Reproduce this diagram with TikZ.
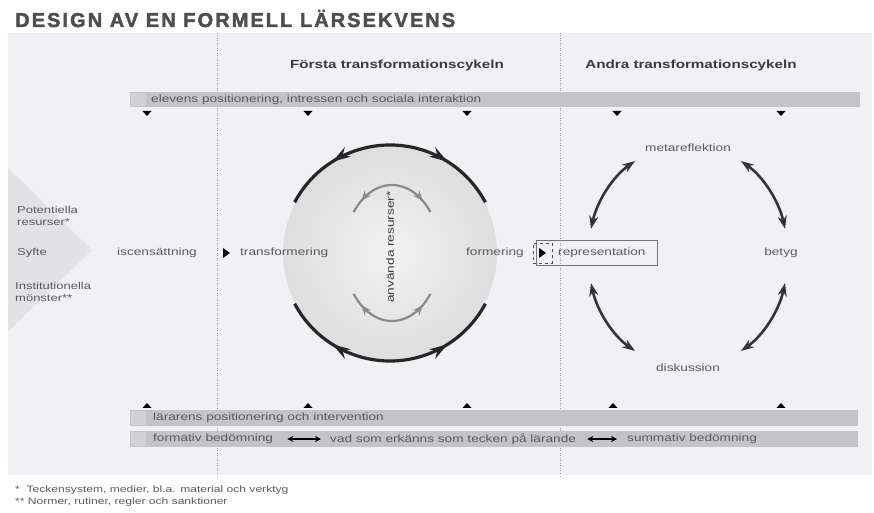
\documentclass[tikz,border=0pt]{standalone}
\usepackage{fontspec}
\setmainfont{Liberation Sans}
\newfontfamily\lab[FakeStretch=1.3]{Liberation Sans}
\newfontfamily\ttl[LetterSpace=10,FakeBold=2]{Liberation Sans}
\usetikzlibrary{arrows.meta,decorations.markings}
\definecolor{panel}{HTML}{F1F1F5}
\definecolor{bar}{HTML}{C4C4C8}
\definecolor{barend}{HTML}{D2D2D6}
\definecolor{chev}{HTML}{E2E2E6}
\definecolor{txt}{HTML}{5A5A5E}
\definecolor{hd}{HTML}{3A3A3E}
\definecolor{inner}{HTML}{8A8A8E}
\tikzset{
  lbl/.style={font=\lab\fontsize{10.5}{12}\selectfont, text=txt, inner sep=1pt},
  side/.style={font=\lab\fontsize{10}{11.5}\selectfont, text=txt, inner sep=1pt},
  head/.style={font=\lab\bfseries\fontsize{11.7}{13}\selectfont, text=hd, inner sep=1pt},
  foot/.style={font=\lab\fontsize{9.3}{10}\selectfont, text=txt, inner sep=0pt, anchor=base west},
  barbox/.style={fill=bar, draw=none},
  sep/.style={draw=gray!80, line width=1pt, dash pattern=on 1pt off 1.5pt},
  bigarc/.style={line width=3.2pt, draw=black!85},
  cyc/.style={line width=2.6pt, draw=black!80, {Stealth[length=13pt,width=9pt]}-{Stealth[length=13pt,width=9pt]}},
  dbl/.style={line width=2pt, draw=black, {Stealth[length=6pt,width=6pt]}-{Stealth[length=6pt,width=6pt]}},
  marker/.style={fill=black}
}
\begin{document}
\begin{tikzpicture}[x=1pt,y=1pt]
\useasboundingbox (0,0) rectangle (874,513);
% title
\node[anchor=base west, inner sep=0pt, text=hd!90] (title) at (15,486)
  {\resizebox{440pt}{!}{\ttl\bfseries DESIGN AV EN FORMELL LÄRSEKVENS}};
% panel
\fill[panel] (8,38) rectangle (872,480);
\fill[chev] (8,345) -- (92,263) -- (8,181) -- cycle;
% separators
\draw[sep] (217,480) -- (217,36);
\draw[sep] (560,480) -- (560,36);
% headings
\node[head] (h1) at (397,448) {Första transformationscykeln};
\node[head] (h2) at (691,448) {Andra transformationscykeln};
% top bar
\fill[barbox] (130,406) rectangle (860,421);
\fill[barend] (131,407) rectangle (146,420);
\node[lbl, anchor=west] (topbar) at (150,413.5) {elevens positionering, intressen och sociala interaktion};
% bottom bars
\fill[barbox] (130,87) rectangle (858,103);
\fill[barend] (131,88) rectangle (146,102);
\node[lbl, anchor=west] (bar1) at (152,95) {lärarens positionering och intervention};
\fill[barbox] (130,66) rectangle (858,82);
\fill[barend] (131,67) rectangle (146,81);
\node[lbl, anchor=west] (fb) at (152,74) {formativ bedömning};
\node[lbl, anchor=west] (vad) at (329,74) {vad som erkänns som tecken på lärande};
\node[lbl, anchor=west] (sb) at (626,74) {summativ bedömning};
\draw[dbl] ([xshift=13pt]fb.east) -- ([xshift=-8pt]vad.west);
\draw[dbl] ([xshift=10pt]vad.east) -- ([xshift=-9pt]sb.west);
% small triangles
\foreach \x in {147,308,467,617,781} {\fill[marker] (\x-4.5,402) -- (\x+4.5,402) -- (\x,397) -- cycle;}
\foreach \x in {147,308,467,613,781} {\fill[marker] (\x-4.5,105) -- (\x+4.5,105) -- (\x,110) -- cycle;}
% left labels
\node[side, anchor=west, align=left] (pot) at (16,297) {Potentiella\\resurser*};
\node[side, anchor=west] (syfte) at (16,260) {Syfte};
\node[side, anchor=west, align=left] (inst) at (14,221) {Institutionella\\mönster**};
% big circle
\shade[inner color=black!5, outer color=black!13] (390,260) circle (107);
\draw[bigarc, postaction={decorate}, decoration={markings,
   mark=at position 0.24 with {\arrowreversed{Stealth[length=18pt,width=11pt]}},
   mark=at position 0.76 with {\arrow{Stealth[length=18pt,width=11pt]}}}]
  (390,260) ++(152:108) arc (152:28:108);
\draw[bigarc, postaction={decorate}, decoration={markings,
   mark=at position 0.24 with {\arrowreversed{Stealth[length=18pt,width=11pt]}},
   mark=at position 0.76 with {\arrow{Stealth[length=18pt,width=11pt]}}}]
  (390,260) ++(-152:108) arc (-152:-28:108);
% inner arcs
\draw[line width=2.2pt, inner, postaction={decorate}, decoration={markings,
   mark=at position 0.14 with {\arrowreversed{Stealth[length=10pt,width=8pt]}},
   mark=at position 0.86 with {\arrow{Stealth[length=10pt,width=8pt]}}}]
  (392,260) ++(143:48 and 68) arc[start angle=143, end angle=37, x radius=48, y radius=68];
\draw[line width=2.2pt, inner, postaction={decorate}, decoration={markings,
   mark=at position 0.14 with {\arrowreversed{Stealth[length=10pt,width=8pt]}},
   mark=at position 0.86 with {\arrow{Stealth[length=10pt,width=8pt]}}}]
  (392,260) ++(-143:48 and 68) arc[start angle=-143, end angle=-37, x radius=48, y radius=68];
\node[lbl, rotate=90, text=hd] (anv) at (390,266) {använda resurser*};
% middle row
\node[lbl] (isc) at (157,260) {iscensättning};
\fill[marker] (223,265) -- (223,255) -- (230,260) -- cycle;
\node[lbl, anchor=west] (trans) at (239,260) {transformering};
\node[lbl, anchor=east] (form) at (525,260) {formering};
% representation box
\node[draw=black!55, line width=1.2pt, minimum width=121pt, minimum height=25pt, inner sep=0pt] (repbox) at (597,260) {};
\node[lbl, anchor=west] (rep) at (557,260) {representation};
\node[draw=black!70, dashed, line width=0.6pt, minimum width=19pt, minimum height=20pt, inner sep=0pt] (dbox) at (542.5,260) {};
\fill[marker] (539,265) -- (539,255) -- (546,260) -- cycle;
% right cycle
\node[lbl] (meta) at (688,365) {metareflektion};
\node[lbl] (disk) at (688,145) {diskussion};
\node[lbl] (betyg) at (781,260) {betyg};
\draw[cyc] (688,257) ++(166:100 and 112) arc[start angle=166, end angle=122, x radius=100, y radius=112];
\draw[cyc] (688,257) ++(58:100 and 112) arc[start angle=58, end angle=14, x radius=100, y radius=112];
\draw[cyc] (688,257) ++(-14:100 and 112) arc[start angle=-14, end angle=-58, x radius=100, y radius=112];
\draw[cyc] (688,257) ++(-122:100 and 112) arc[start angle=-122, end angle=-166, x radius=100, y radius=112];
% footnotes
\node[foot] (f1) at (15,20) {*\ \ Teckensystem, medier, bl.a. material och verktyg};
\node[foot] (f2) at (15,8) {**\ Normer, rutiner, regler och sanktioner};
\end{tikzpicture}
\end{document}
